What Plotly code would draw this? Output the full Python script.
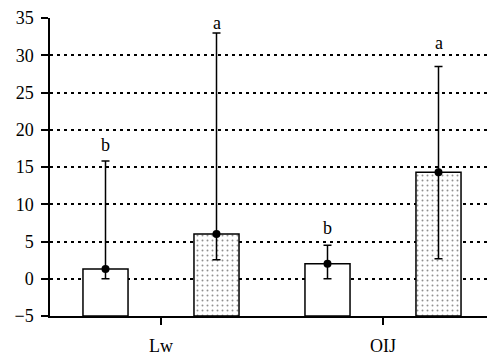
import plotly.graph_objects as go

categories = ["Lw", "OIJ"]
series_names = ["open", "stippled"]
means = {"open": [1.3, 2.0], "stippled": [6.0, 14.3]}
err_hi = {"open": [15.8, 4.5], "stippled": [33.0, 28.5]}
err_lo = {"open": [0.0, 0.0], "stippled": [2.55, 2.7]}
letters = {"open": ["b", "b"], "stippled": ["a", "a"]}
letter_y = {"open": [18.0, 6.8], "stippled": [34.3, 31.6]}
y_ticks = [-5, 0, 5, 10, 15, 20, 25, 30, 35]
y_min, y_max = -5, 35

FONT = "Times New Roman, Liberation Serif, DejaVu Serif, serif"
offsets = {"open": -0.25, "stippled": 0.25}
xs = list(range(len(categories)))

fig = go.Figure()
for name in series_names:
    is_pat = name == "stippled"
    fig.add_trace(go.Bar(
        x=xs, y=[m - y_min for m in means[name]], base=y_min, name=name,
        marker=dict(
            color="white",
            line=dict(color="black", width=1.5),
            pattern=dict(shape="." if is_pat else "", fgcolor="#222222",
                         bgcolor="white", size=5, solidity=0.12),
        ),
        showlegend=False,
    ))
for name in series_names:
    px = [x + offsets[name] for x in xs]
    fig.add_trace(go.Scatter(
        x=px, y=means[name], mode="markers",
        marker=dict(color="black", size=8),
        error_y=dict(type="data", symmetric=False,
                     array=[h - m for h, m in zip(err_hi[name], means[name])],
                     arrayminus=[m - l for l, m in zip(err_lo[name], means[name])],
                     color="black", thickness=1.5, width=4),
        showlegend=False,
    ))
    for x, t, ly in zip(px, letters[name], letter_y[name]):
        fig.add_annotation(x=x, y=ly, text=t, showarrow=False,
                           font=dict(family=FONT, size=18, color="black"))

# page body has an 8px default margin; compensate so the plot lands where the reference has it
fig.update_layout(
    width=487, height=349,
    margin=dict(l=42, r=1, t=10, b=41),
    paper_bgcolor="white", plot_bgcolor="white",
    barmode="group", bargap=0.0, bargroupgap=0.594,
    font=dict(family=FONT, size=18, color="black"),
)
fig.update_xaxes(
    range=[-0.5, 1.5], tickvals=xs + [1.5], ticktext=categories + [""],
    ticks="outside", ticklen=7, tickwidth=1.5, tickcolor="black",
    showline=True, linecolor="black", linewidth=1.5, showgrid=False,
    zeroline=False, tickfont=dict(family=FONT, size=18), automargin=False,
    ticklabelstandoff=6,
)
fig.update_yaxes(
    range=[y_min, y_max], tickvals=y_ticks, ticks="outside", ticklen=7,
    tickwidth=1.5, tickcolor="black",
    showline=True, linecolor="black", linewidth=1.5,
    showgrid=True, gridcolor="black", gridwidth=1.5, griddash="3px,4px",
    zeroline=False, tickfont=dict(family=FONT, size=18), automargin=False,
    ticklabelstandoff=4,
)
fig.write_html("out.html")
